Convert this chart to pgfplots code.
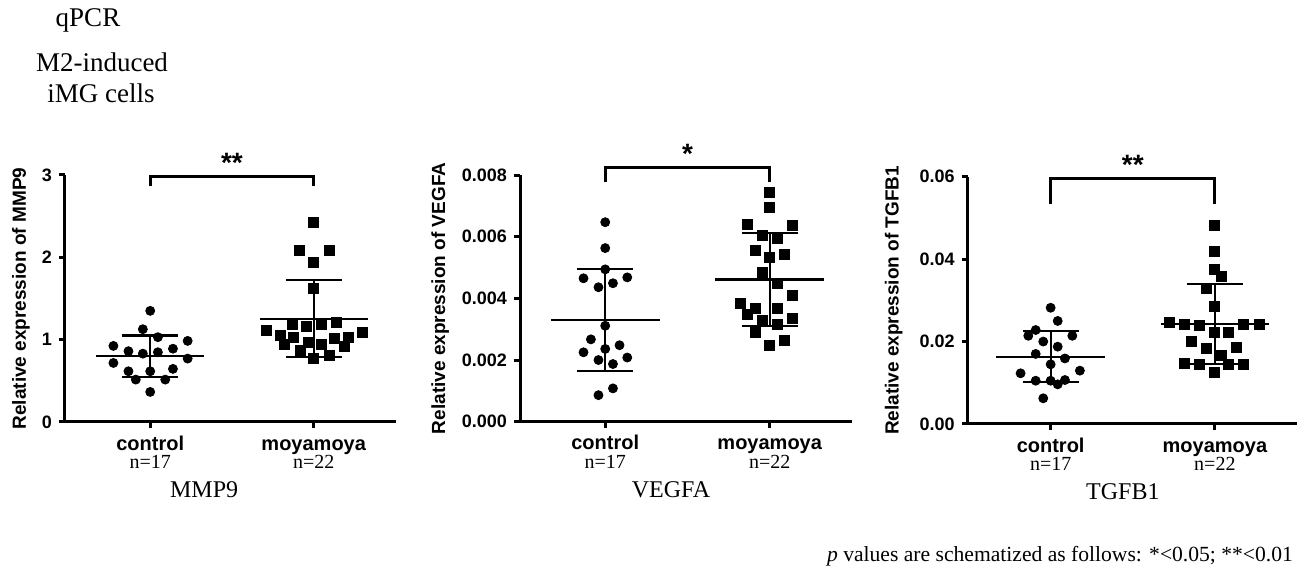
\documentclass[border=0pt]{standalone}
\usepackage{fontspec}
\setmainfont{Liberation Serif}
\setsansfont{Liberation Sans}
\usepackage{pgfplots}
\pgfplotsset{compat=1.18}

\pgfplotsset{
  gp/.style={
    scale only axis,
    axis x line=bottom, axis y line=left,
    axis line style={line width=1.5pt, -},
    every tick/.style={line width=1.5pt, black},
    major tick length=3pt,
    tick align=outside,
    xtick={1,2}, xticklabels={control, moyamoya},
    xticklabel style={font=\sffamily\bfseries\fontsize{10}{12}\selectfont,
      text height=7.5pt, text depth=2pt},
    yticklabel style={font=\sffamily\bfseries\fontsize{9}{10}\selectfont},
    ylabel style={font=\sffamily\bfseries\fontsize{9.5}{11}\selectfont, anchor=center},
    scaled y ticks=false,
    clip=false,
  },
  ctrl/.style={only marks, mark=*, mark size=2.25pt, black},
  moya/.style={only marks, mark=square*, mark size=2.5pt, black},
  sd/.style={black, line width=1.1pt, mark=none},
  brk/.style={black, line width=1.5pt, mark=none},
}
\tikzset{
  sigstar/.style={font=\sffamily\bfseries\fontsize{14}{15}\selectfont, anchor=base, yshift=2pt},
  nlab/.style={font=\fontsize{10}{12}\selectfont, yshift=-20pt},
  gene/.style={font=\fontsize{12}{14}\selectfont, yshift=-34pt},
}

\begin{document}
\begin{tikzpicture}
\path[use as bounding box] (0,0) rectangle (654pt,288pt);

\node[font=\fontsize{13.5}{15}\selectfont] at (44pt,278pt) {qPCR};
\node[font=\fontsize{13.5}{15}\selectfont] at (51pt,257pt) {M2-induced};
\node[font=\fontsize{13.5}{15}\selectfont] at (50.5pt,241.5pt) {iMG cells};
\node[font=\fontsize{10.8}{12}\selectfont, anchor=east] at (650pt,10pt)
  {\textit{p} values are schematized as follows: *<0.05; **<0.01};

% MMP9
\begin{axis}[gp, at={(32.5pt,77pt)}, anchor=south west,
  width=165.5pt, height=123.5pt,
  xmin=0.479, xmax=2.503, ymin=0, ymax=3,
  ytick={0,1,2,3}, yticklabels={0,1,2,3},
  ylabel={Relative expression of MMP9},
  ylabel style={at={(axis description cs:-0.133,0.5)}}]
\addplot[ctrl] coordinates {
  (1.000,1.35) (0.955,1.127) (1.047,1.03) (0.775,0.924) (1.229,0.985)
  (0.867,0.86) (0.955,0.83) (1.047,0.847) (1.139,0.89) (0.775,0.717)
  (1.229,0.77) (0.867,0.616) (1.000,0.616) (1.139,0.645) (0.912,0.515)
  (1.092,0.515) (1.000,0.365)};
\addplot[moya] coordinates {
  (2.000,2.43) (1.914,2.09) (2.098,2.09) (2.000,1.94) (2.000,1.62)
  (1.712,1.118) (1.869,1.19) (1.957,1.158) (2.047,1.18) (2.141,1.215)
  (1.798,1.057) (1.876,1.03) (2.299,1.085) (2.213,1.03) (2.129,1.017)
  (1.820,0.948) (1.965,0.964) (2.047,0.948) (2.186,0.915) (1.916,0.875)
  (2.000,0.77) (2.098,0.81)};
\addplot[sd] coordinates {(0.67,0.80) (1.33,0.80)};
\addplot[sd] coordinates {(1,0.547) (1,1.05)};
\addplot[sd] coordinates {(0.83,1.05) (1.17,1.05)};
\addplot[sd] coordinates {(0.83,0.547) (1.17,0.547)};
\addplot[sd] coordinates {(1.67,1.25) (2.33,1.25)};
\addplot[sd] coordinates {(2,0.786) (2,1.72)};
\addplot[sd] coordinates {(1.83,1.72) (2.17,1.72)};
\addplot[sd] coordinates {(1.83,0.786) (2.17,0.786)};
\addplot[brk] coordinates {(1,2.87) (1,2.98) (2,2.98) (2,2.87)};
\node[sigstar] at (axis cs:1.5,2.98) {**};
\node[nlab] at (axis cs:1,0) {n=17};
\node[nlab] at (axis cs:2,0) {n=22};
\node[gene] at (axis cs:1.33,0) {MMP9};
\end{axis}

% VEGFA
\begin{axis}[gp, at={(260pt,77.15pt)}, anchor=south west,
  width=166pt, height=123.35pt,
  xmin=0.482, xmax=2.5, ymin=0, ymax=0.008,
  ytick={0,0.002,0.004,0.006,0.008},
  yticklabels={0.000,0.002,0.004,0.006,0.008},
  ylabel={Relative expression of VEGFA},
  ylabel style={at={(axis description cs:-0.24,0.5)}}]
\addplot[ctrl] coordinates {
  (1.000,0.00647) (1.000,0.00563) (1.000,0.00494) (0.868,0.00465) (1.134,0.00468)
  (0.959,0.00436) (1.047,0.00449) (1.000,0.00311) (0.913,0.00267) (1.087,0.00248)
  (0.868,0.00225) (1.000,0.00236) (1.134,0.00208) (0.959,0.00200) (1.047,0.00187)
  (1.047,0.00108) (0.959,0.00086)};
\addplot[moya] coordinates {
  (2.000,0.00744) (2.000,0.00695) (1.862,0.00640) (2.136,0.00637) (1.953,0.00603)
  (2.045,0.00596) (1.913,0.00557) (2.089,0.00542) (2.000,0.00532) (1.953,0.00483)
  (2.045,0.00450) (2.136,0.00409) (1.821,0.00383) (1.913,0.00368) (2.045,0.00369)
  (1.862,0.00347) (2.136,0.00335) (1.953,0.00328) (2.045,0.00316) (1.913,0.00289)
  (2.089,0.00263) (2.000,0.00248)};
\addplot[sd] coordinates {(0.67,0.00329) (1.33,0.00329)};
\addplot[sd] coordinates {(1,0.00164) (1,0.00495)};
\addplot[sd] coordinates {(0.83,0.00495) (1.17,0.00495)};
\addplot[sd] coordinates {(0.83,0.00164) (1.17,0.00164)};
\addplot[sd] coordinates {(1.67,0.00461) (2.33,0.00461)};
\addplot[sd] coordinates {(2,0.00311) (2,0.00611)};
\addplot[sd] coordinates {(1.83,0.00611) (2.17,0.00611)};
\addplot[sd] coordinates {(1.83,0.00311) (2.17,0.00311)};
\addplot[brk] coordinates {(1,0.00778) (1,0.00825) (2,0.00825) (2,0.00778)};
\node[sigstar] at (axis cs:1.5,0.00825) {*};
\node[nlab] at (axis cs:1,0) {n=17};
\node[nlab] at (axis cs:2,0) {n=22};
\node[gene] at (axis cs:1.40,0) {VEGFA};
\end{axis}

% TGFB1
\begin{axis}[gp, at={(483.85pt,76pt)}, anchor=south west,
  width=164.65pt, height=123.65pt,
  xmin=0.495, xmax=2.5, ymin=0, ymax=0.06,
  ytick={0,0.02,0.04,0.06},
  yticklabels={0.00,0.02,0.04,0.06},
  ylabel={Relative expression of TGFB1},
  ylabel style={at={(axis description cs:-0.225,0.5)}}]
\addplot[ctrl] coordinates {
  (1.000,0.0282) (1.043,0.0250) (0.909,0.0228) (0.864,0.0214) (1.132,0.0214)
  (0.955,0.0200) (1.043,0.01876) (0.909,0.0170) (1.087,0.0159) (1.000,0.01447)
  (0.817,0.0123) (1.178,0.01294) (0.909,0.0105) (1.000,0.0105) (1.087,0.01067)
  (1.043,0.00962) (0.955,0.00623)};
\addplot[moya] coordinates {
  (2.000,0.04828) (2.000,0.04197) (2.000,0.0376) (2.041,0.03574) (1.949,0.03292)
  (2.000,0.02846) (1.726,0.02458) (1.817,0.02426) (1.903,0.02385) (2.176,0.02426)
  (2.268,0.02426) (2.000,0.02215) (2.085,0.02215) (1.858,0.01997) (1.949,0.01836)
  (2.128,0.01861) (2.041,0.01674) (1.817,0.01473) (1.903,0.01448) (2.085,0.01448)
  (2.176,0.01448) (2.000,0.01245)};
\addplot[sd] coordinates {(0.67,0.01633) (1.33,0.01633)};
\addplot[sd] coordinates {(1,0.01027) (1,0.02256)};
\addplot[sd] coordinates {(0.83,0.02256) (1.17,0.02256)};
\addplot[sd] coordinates {(0.83,0.01027) (1.17,0.01027)};
\addplot[sd] coordinates {(1.67,0.02426) (2.33,0.02426)};
\addplot[sd] coordinates {(2,0.01448) (2,0.03397)};
\addplot[sd] coordinates {(1.83,0.03397) (2.17,0.03397)};
\addplot[sd] coordinates {(1.83,0.01448) (2.17,0.01448)};
\addplot[brk] coordinates {(1,0.0533) (1,0.0596) (2,0.0596) (2,0.0533)};
\node[sigstar] at (axis cs:1.5,0.0596) {**};
\node[nlab] at (axis cs:1,0) {n=17};
\node[nlab] at (axis cs:2,0) {n=22};
\node[gene] at (axis cs:1.44,0) {TGFB1};
\end{axis}
\end{tikzpicture}
\end{document}
